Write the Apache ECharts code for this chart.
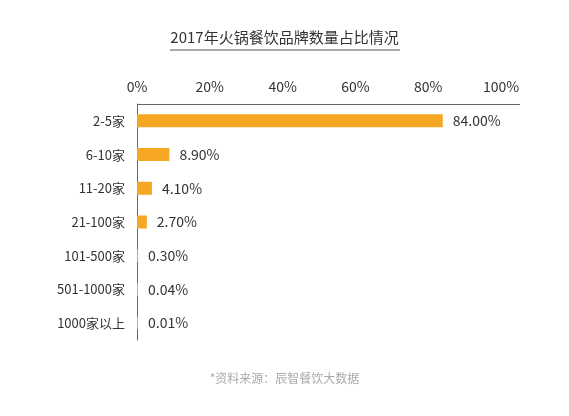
<!DOCTYPE html><html><head><meta charset="utf-8"><script src="https://cdn.jsdelivr.net/npm/echarts@6/dist/echarts.min.js"></script>
<style>html,body{margin:0;background:#fff}#c{width:569px;height:416px}</style></head><body><div id="c"></div><script>
const categories=['2-5家','6-10家','11-20家','21-100家','101-500家','501-1000家','1000家以上'];
const values=[84.00,8.90,4.10,2.70,0.30,0.04,0.01];
const ticks=['0%','20%','40%','60%','80%','100%'];
const ch=echarts.init(document.getElementById('c'));
const ff='"Noto Sans CJK SC","Noto Sans",sans-serif';
ch.setOption({
 animation:false,
 title:{text:'2017年火锅餐饮品牌数量占比情况',left:'center',top:25,textStyle:{fontFamily:ff,fontSize:15,fontWeight:'normal',color:'#333'}},
 graphic:[{type:'line',shape:{x1:170,y1:50,x2:400,y2:50},style:{stroke:'#555',lineWidth:1}},
  {type:'line',shape:{x1:137,y1:104.5,x2:520,y2:104.5},style:{stroke:'#666',lineWidth:1}},
  {type:'text',left:'center',top:372,style:{text:'*资料来源：辰智餐饮大数据',fontFamily:ff,fontSize:12,fill:'#aaa'}}],
 grid:{left:137,right:68,top:104,bottom:76},
 xAxis:{type:'value',position:'top',min:0,max:100,interval:20,
  axisLine:{show:false},axisTick:{show:false},splitLine:{show:false},
  axisLabel:{fontFamily:ff,fontSize:14,color:'#333',margin:10,formatter:v=>ticks[v/20]}},
 yAxis:{type:'category',data:categories,inverse:true,
  axisLine:{show:true,lineStyle:{color:'#666'}},axisTick:{show:false},
  axisLabel:{fontFamily:ff,fontSize:13,color:'#333',margin:12}},
 series:[{type:'bar',data:values,barWidth:13,barMinHeight:1,itemStyle:{color:'#F5A623'},
  label:{show:true,position:'right',distance:10,fontFamily:ff,fontSize:14,color:'#333',formatter:p=>p.value.toFixed(2)+'%'}}]
});
</script></body></html>
